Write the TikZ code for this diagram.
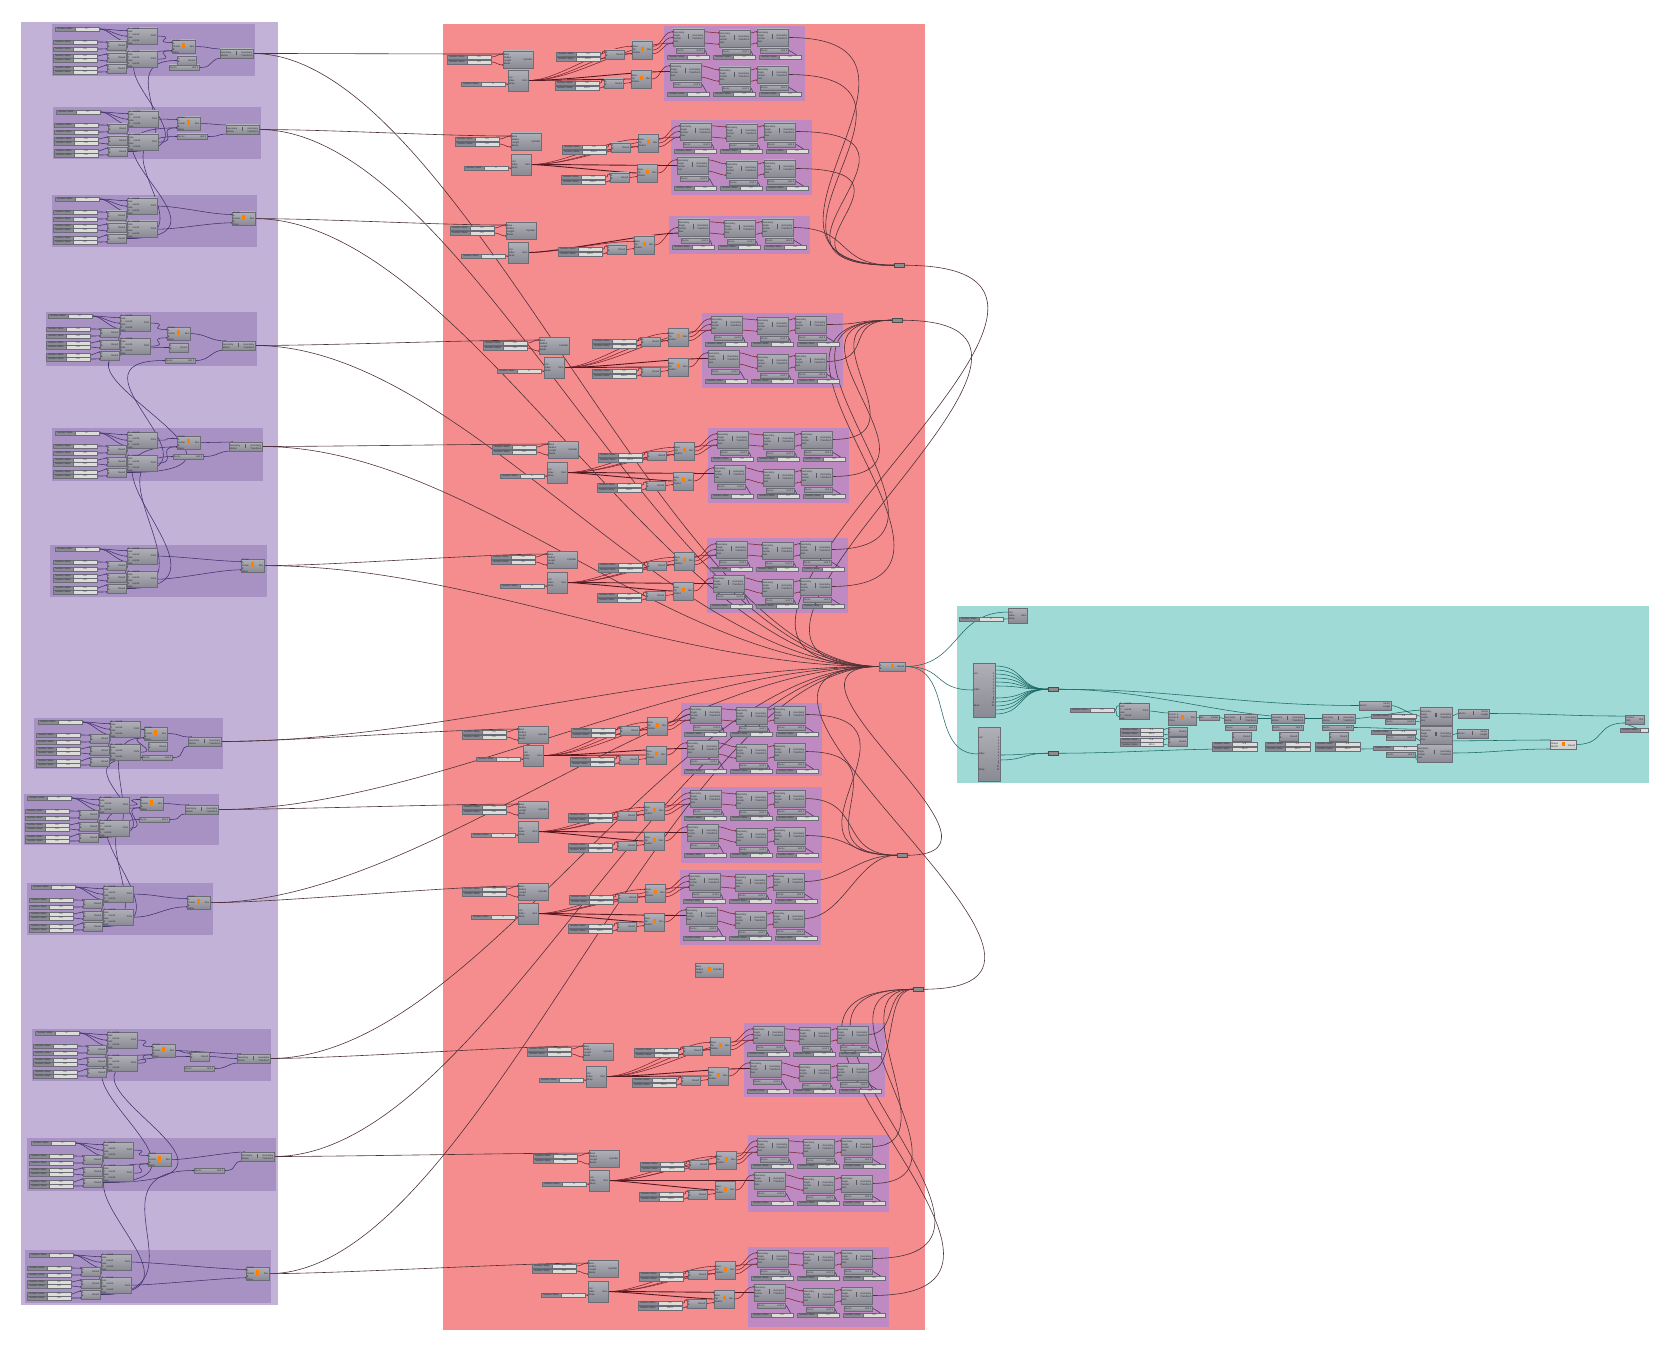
\documentclass[tikz,border=0pt]{standalone}
\usepackage{fontspec}
\setmainfont{Liberation Sans}
\usetikzlibrary{arrows.meta, positioning}
\pgfdeclarelayer{panel}
\pgfdeclarelayer{wires}
\pgfsetlayers{panel,wires,main}

\definecolor{lpanelc}{RGB}{195,178,215}
\definecolor{lgroupc}{RGB}{168,146,196}
\definecolor{rpanelc}{RGB}{245,141,143}
\definecolor{rgroupc}{RGB}{190,138,193}
\definecolor{tpanelc}{RGB}{159,218,215}
\definecolor{ctop}{RGB}{176,176,184}
\definecolor{cbot}{RGB}{138,138,148}
\definecolor{cedge}{RGB}{108,108,118}
\definecolor{ctext}{RGB}{40,40,48}
\definecolor{ptrack}{RGB}{220,220,216}
\definecolor{pw}{RGB}{66,48,110}
\definecolor{rw}{RGB}{122,36,48}
\definecolor{tw}{RGB}{28,104,100}
\definecolor{lw}{RGB}{78,50,56}

\newcommand{\tfont}{\fontsize{2.4}{2.9}\selectfont}
\newcommand{\icob}{\textcolor{orange}{\rule{3pt}{4.5pt}}}
\newcommand{\icom}{\textcolor{black!65}{\rule{1.6pt}{4.5pt}}}

\tikzset{
    comp/.style={draw=cedge, line width=.3pt, top color=ctop, bottom color=cbot, inner sep=0pt,
        outer sep=0pt, anchor=north west, text=ctext, font=\tfont},
    lightc/.style={top color=ptrack, bottom color=ptrack!85!gray},
    slbl/.style={draw=cedge, line width=.25pt, fill=cbot, inner sep=0pt, outer sep=0pt,
        minimum height=4pt, anchor=north west, text=ctext, font=\tfont},
    strk/.style={draw=cedge, line width=.25pt, fill=ptrack, inner sep=0pt, outer sep=0pt,
        minimum height=4pt, text=ctext, font=\tfont},
    hubn/.style={draw=black!70, line width=.3pt, fill=black!45, inner sep=0pt, outer sep=0pt,
        minimum width=10pt, minimum height=4.5pt, anchor=north west},
    backp/.style={inner sep=0pt, outer sep=0pt, anchor=north west},
    pwire/.style={draw=pw, line width=.55pt, {Circle[length=1.2pt]}-{Circle[length=1.2pt]}},
    rwire/.style={draw=rw, line width=.55pt, {Circle[length=1.2pt]}-{Circle[length=1.2pt]}},
    rthick/.style={draw=rw!70!black, line width=.9pt},
    twire/.style={draw=tw, line width=.55pt},
    lwire/.style={draw=lw, line width=.6pt}
}

\newcommand{\comp}[8][]{
    \node[comp, minimum width=#5pt, minimum height=#6pt] (#2) at (#3,#4)
        {\makebox[\dimexpr#5pt-1.5pt]{\parbox[c]{\dimexpr#5pt*40/100}{#7}\hfill #1\hfill\parbox[c]{\dimexpr#5pt*40/100}{\raggedleft #8}}};
}
\newcommand{\sliderbar}[5]{
    \node[slbl, minimum width=20pt] (#1l) at (#2,#3) {Number Slider};
    \node[strk, right=0pt of #1l, minimum width={(#4-20)*1pt}] (#1) {#5};
}
\newcommand{\wirelist}{}
\newcommand{\wirenow}[4]{\draw[#1] (#2) .. controls +(#4,0) and +(-#4,0) .. (#3);}
\newcommand{\wire}[4][pwire]{
    \xdef\wirelist{\unexpanded\expandafter{\wirelist}\noexpand\wirenow{#1}{#2}{#3}{#4}}
}
\newcommand{\leftgroup}[7]{
    \begin{pgfonlayer}{panel}
        \node[backp, fill=lgroupc, minimum width=#4pt, minimum height=#5pt] (#1r) at (#2,#3) {};
    \end{pgfonlayer}
    \sliderbar{#1s}{#6}{#7}{44}{0.7}
    \foreach \n/\dy in {1/13,2/20,3/27,4/31,5/39,6/43} {
        \sliderbar{#1a\n}{#6-2}{#7+\dy}{44}{0.5}
    }
    \foreach \n/\dy in {1/14,2/26,3/37} {
        \comp{#1d\n}{#6+52}{#7+\dy}{19}{9}{A\\B}{Result}
    }
    \comp{#1p}{#6+72}{#7+1}{30}{13}{X coordinate\\Y coordinate\\Z coordinate}{Point}
    \comp{#1q}{#6+72}{#7+24}{30}{13}{X coordinate\\Y coordinate\\Z coordinate}{Point}
    \wire{#1s.east}{#1p.160}{9}
    \wire{#1s.east}{#1p.west}{9}
    \wire{#1s.east}{#1p.200}{9}
    \wire{#1a1.east}{#1d1.160}{4}
    \wire{#1a2.east}{#1d1.200}{4}
    \wire{#1a3.east}{#1d2.160}{4}
    \wire{#1a4.east}{#1d2.200}{4}
    \wire{#1a5.east}{#1d3.160}{4}
    \wire{#1a6.east}{#1d3.200}{4}
    \wire{#1d1.east}{#1q.160}{3}
    \wire{#1d2.east}{#1q.west}{3}
    \wire{#1d3.east}{#1q.200}{3}
}
\newcommand{\pinkrow}[9]{
    \comp[\icom]{#1a}{#2+#5}{#3+#6}{31}{17}{Geometry\\Angle\\Center\\Axis}{Geometry\\Transform}
    \comp[\icom]{#1b}{#2+55}{#3+#7}{31}{17}{Geometry\\Angle\\Center\\Axis}{Geometry\\Transform}
    \comp[\icom]{#1c}{#2+#8}{#3+#9}{31}{17}{Geometry\\Angle\\Center\\Axis}{Geometry\\Transform}
    \comp{#1e}{#2+#5+3}{#3+#6+19}{28}{5}{Factor}{Unit X}
    \comp{#1f}{#2+58}{#3+#7+19}{28}{5}{Factor}{Unit Y}
    \comp{#1g}{#2+#8+3}{#3+#9+19}{28}{5}{Factor}{Unit Z}
    \sliderbar{#1h}{#2+3}{#3+#4}{42}{0.5}
    \sliderbar{#1i}{#2+49}{#3+#4}{42}{1.0}
    \sliderbar{#1j}{#2+95}{#3+#4}{42}{0.5}
    \wire[rwire]{#1a.20}{#1b.160}{5}
    \wire[rwire]{#1a.340}{#1b.200}{5}
    \wire[rwire]{#1b.20}{#1c.160}{5}
    \wire[rwire]{#1b.340}{#1c.200}{5}
    \wire{#1e.east}{#1h.east}{2}
    \wire{#1f.east}{#1i.east}{2}
    \wire{#1g.east}{#1j.east}{2}
}
\newcommand{\redleft}[5]{
    \comp{#1c}{#2}{#3}{30}{17}{Base\\Radius\\Length\\Bases}{Cylinder}
    \comp{#1l}{#4}{#5}{20}{21}{List\\Index\\Wrap}{Item}
    \sliderbar{#1u}{#2-56}{#3+4}{44}{0.5}
    \sliderbar{#1v}{#2-56}{#3+9}{44}{0.5}
    \sliderbar{#1w}{#4-47}{#5+12}{44}{5}
    \wire[rwire]{#1u.east}{#1c.160}{5}
    \wire[rwire]{#1v.east}{#1c.200}{5}
    \wire[rwire]{#1w.east}{#1l.200}{4}
}
\newcommand{\redbox}[3]{
    \comp[\icob]{#1}{#2}{#3}{20}{18}{Base\\Tip\\Radius}{Box}
    \comp{#1d}{#2-27}{#3+9}{19}{9}{A\\B}{Result}
    \sliderbar{#1t}{#2-76}{#3+11}{44}{0.5}
    \sliderbar{#1y}{#2-76}{#3+16}{44}{100.0}
    \wire[rwire]{#1t.east}{#1d.160}{4}
    \wire[rwire]{#1y.east}{#1d.200}{4}
    \wire[rwire]{#1d.east}{#1.200}{3}
}

\begin{document}
\begin{tikzpicture}[x=1pt, y=-1pt]
    \useasboundingbox (0,0) rectangle (1671,1351);
    \begin{pgfonlayer}{panel}
        \node[backp, fill=lpanelc, minimum width=257pt, minimum height=1283pt] (lpanel) at (21,22) {};
        \node[backp, fill=rpanelc, minimum width=482pt, minimum height=1306pt] (rpanel) at (443,24) {};
        \node[backp, fill=tpanelc, minimum width=692pt, minimum height=177pt] (tpanel) at (957,606) {};
    \end{pgfonlayer}

    \leftgroup{G1}{52}{24}{203}{52}{55}{27}
    \leftgroup{G2}{53}{107}{208}{52}{56}{110}
    \leftgroup{G3}{52}{195}{205}{52}{55}{197}
    \leftgroup{G4}{46}{312}{211}{54}{48}{314}
    \leftgroup{G5}{52}{428}{211}{53}{55}{431}
    \leftgroup{G6}{50}{545}{217}{52}{55}{547}
    \leftgroup{G7}{34}{718}{189}{51}{38}{720}
    \leftgroup{G8}{24}{794}{195}{51}{27}{796}
    \leftgroup{G9}{27}{883}{186}{52}{31}{885}
    \leftgroup{G10}{32}{1029}{239}{52}{35}{1031}
    \leftgroup{G11}{27}{1138}{249}{53}{31}{1141}
    \leftgroup{G12}{25}{1250}{246}{53}{29}{1253}

    \foreach \id/\bx/\by in {G1/172/40,G2/177/117,G3/232/212,G4/167/327,G5/177/436,G6/241/559,
        G7/144/727,G8/140/797,G9/187/896,G10/152/1044,G11/148/1153,G12/246/1267} {
        \comp[\icob]{\id b}{\bx}{\by}{23}{13}{Corner A\\Corner B\\Plane}{Box}
        \wire{\id p.east}{\id b.160}{22}
        \wire{\id q.east}{\id b.200}{22}
    }
    \foreach \id/\mx/\my/\fx/\fy in {G1/220/49/169/65,G2/226/125/177/134,G4/222/341/165/358,
        G5/229/442/173/454,G7/188/737/142/755,G8/185/805/139/817,G10/237/1054/184/1066,G11/241/1152/194/1168} {
        \comp[\icom]{\id m}{\mx}{\my}{33}{9}{Geometry\\Motion}{Geometry\\Transform}
        \comp{\id f}{\fx}{\fy}{30}{5}{Factor}{Unit Z}
        \wire{\id b.east}{\id m.160}{16}
        \wire{\id f.east}{\id m.200}{16}
    }
    \foreach \id/\ax/\ay in {G1/177/56,G4/169/343,G7/148/742,G10/190/1052} {
        \comp{\id e}{\ax}{\ay}{19}{9}{A\\B}{Result}
    }
    \wire{G10b.east}{G10e.160}{10}
    \wire{G10e.east}{G10m.west}{10}

    \foreach \lo/\up/\ka in {G2d3/G1b.200/110,G2d3/G1e.west/70,G3d3/G2b.200/130,G3d3/G2f.west/90,
        G5d3/G4e.west/190,G5d3/G4f.west/110,G6d3/G5b.200/130,G6d3/G5f.west/90,G8d3/G7b.200/60,
        G8d3/G7f.west/100,G9d3/G8b.200/100,G9d3/G8f.west/60,G11d3/G10e.west/220,G11d3/G10b.200/150,
        G12d3/G11b.200/130,G12d3/G11f.west/110} {
        \wire{\lo.east}{\up}{\ka}
    }

    \foreach \id/\px/\py/\ph/\cx/\cy/\lx/\ly/\ex/\ey/\fx/\fy in {
        B1/664/26/75/503/51/508/70/632/41/631/70,
        B2/671/120/75/511/133/511/154/638/134/637/164,
        B4/702/313/75/539/337/544/357/668/328/668/358,
        B5/708/428/75/548/441/547/462/674/442/673/472,
        B6/707/538/75/547/551/547/572/674/552/673/582,
        B7/681/703/73/518/726/523/745/647/717/646/746,
        B8/681/787/76/518/801/518/821/644/802/644/832,
        B9/680/870/75/518/883/518/903/645/884/644/913,
        B10/744/1023/74/583/1043/586/1066/710/1037/708/1067,
        B11/748/1135/77/589/1150/589/1170/716/1151/715/1181,
        B12/748/1247/80/588/1260/588/1281/715/1261/714/1290} {
        \begin{pgfonlayer}{panel}
            \node[backp, fill=rgroupc, minimum width=141pt, minimum height=\ph pt] (\id g) at (\px,\py) {};
        \end{pgfonlayer}
        \redleft{\id}{\cx}{\cy}{\lx}{\ly}
        \redbox{\id e}{\ex}{\ey}
        \redbox{\id h}{\fx}{\fy}
        \pinkrow{\id r}{\px}{\py}{29}{9}{3}{4}{93}{3}
        \pinkrow{\id s}{\px}{\py+34}{32}{6}{3}{7}{93}{6}
        \wire[rwire]{\id e.20}{\id ra.160}{10}
        \wire[rwire]{\id e.east}{\id ra.west}{10}
        \wire[rwire]{\id e.340}{\id ra.200}{10}
        \wire[rwire]{\id h.east}{\id sa.160}{10}
        \wire[rwire]{\id l.east}{\id e.160}{30}
        \wire[rwire]{\id l.east}{\id e.200}{40}
        \wire[rwire]{\id l.east}{\id ra.200}{50}
        \wire[rthick]{\id l.east}{\id h.west}{12}
        \wire[rthick]{\id l.east}{\id sa.west}{40}
    }
    \begin{pgfonlayer}{panel}
        \node[backp, fill=rgroupc, minimum width=141pt, minimum height=38pt] (B3g) at (669,216) {};
    \end{pgfonlayer}
    \redleft{B3}{506}{222}{508}{242}
    \redbox{B3e}{634}{236}
    \pinkrow{B3r}{669}{216}{29}{9}{3}{4}{93}{3}
    \wire[rwire]{B3e.east}{B3ra.west}{10}
    \wire[rwire]{B3l.east}{B3e.160}{30}
    \wire[rthick]{B3l.east}{B3ra.200}{30}

    \comp[\icob]{Bx}{695}{963}{28}{14}{Base\\Radius\\Height}{Cylinder}

    \node[hubn] (hub1) at (894,263) {};
    \node[hubn] (hub2) at (892,318) {};
    \node[hubn] (hub3) at (897,853) {};
    \node[hubn] (hub4) at (913,987) {};
    \comp[\icob]{main}{879}{662}{26}{9}{A\\B}{Result}

    \foreach \rr/\hb/\kk in {B1r/hub1/190,B1s/hub1/180,B2r/hub1/170,B2s/hub1/150,B3r/hub1/60,
        B4r/hub2/40,B4s/hub2/50,B5r/hub2/100,B5s/hub2/135,B6r/hub2/170,B6s/hub2/190,
        B7r/hub3/140,B7s/hub3/110,B8r/hub3/60,B8s/hub3/50,B9r/hub3/40,B9s/hub3/40,
        B10r/hub4/30,B10s/hub4/30,B11r/hub4/80,B11s/hub4/120,B12r/hub4/200,B12s/hub4/230} {
        \wire[lwire]{\rr c.east}{\hb.west}{\kk}
    }
    \wire[lwire]{hub1.east}{main.west}{300}
    \wire[lwire]{hub2.east}{main.west}{250}
    \wire[lwire]{hub3.east}{main.west}{130}
    \wire[lwire]{hub4.east}{main.west}{230}

    \foreach \gout/\blk in {G1m/B1,G2m/B2,G3b/B3,G4m/B4,G5m/B5,G6b/B6,G7m/B7,G8m/B8,G9b/B9,G10m/B10,G11m/B11,G12b/B12} {
        \wire[lwire]{\gout.east}{\blk c.160}{70}
        \wire[lwire]{\gout.east}{main.west}{210}
    }

    \sliderbar{Ts}{959}{617}{44}{5}
    \comp{Ti}{1008}{608}{19}{15}{List\\Index\\Wrap}{Item}
    \comp{Tl}{973}{663}{22}{54}{List\\[13pt]Index\\[13pt]Wrap}{0\\1\\2\\3\\4\\5\\6\\7\\8\\9\\10\\11}
    \comp{Tt}{978}{727}{22}{54}{List\\[13pt]Index\\[13pt]Wrap}{0\\1\\2\\3\\4\\5\\6\\7\\8\\9\\10\\11}
    \node[hubn] (Th1) at (1048,687) {};
    \node[hubn] (Th2) at (1048,751) {};
    \wire[twire]{Ts.east}{Ti.200}{6}
    \wire[twire]{main.east}{Ti.160}{55}
    \wire[twire]{main.east}{Tl.west}{40}
    \wire[twire]{main.east}{Tt.west}{50}
    \foreach \dy in {24,20,16,12,8,4,-8,-12,-16,-20,-24} {
        \wire[twire]{[yshift=\dy pt]Tl.east}{Th1.west}{30}
    }
    \wire[twire]{[yshift=-1pt]Tt.east}{Th2.west}{25}
    \wire[twire]{[yshift=-6pt]Tt.east}{Th2.west}{25}

    \sliderbar{Tu}{1070}{708}{44}{0.5}
    \comp{Tp}{1119}{703}{30}{14}{X coordinate\\Y coordinate\\Z coordinate}{Point}
    \comp[\icob]{Tb}{1168}{711}{28}{14}{Corner A\\Corner B\\Plane}{Box}
    \comp{Tc}{1199}{715}{20}{5}{Box}{Center}
    \sliderbar{Tv}{1120}{728}{43}{0.5}
    \sliderbar{Tw}{1120}{732}{43}{100.0}
    \sliderbar{Tx}{1120}{738}{43}{0.5}
    \sliderbar{Ty}{1120}{742.5}{43}{100.0}
    \comp{Td}{1168}{727}{19}{9}{A\\B}{Result}
    \comp{Te}{1168}{737}{19}{9}{A\\B}{Result}
    \wire[twire]{Tu.east}{Tp.160}{5}
    \wire[twire]{Tu.east}{Tp.200}{5}
    \wire[twire]{Tp.east}{Tb.160}{10}
    \wire[twire]{Tb.east}{Tc.west}{2}
    \wire[twire]{Tv.east}{Td.160}{3}
    \wire[twire]{Tw.east}{Td.200}{3}
    \wire[twire]{Tx.east}{Te.160}{3}
    \wire[twire]{Ty.east}{Te.200}{3}

    \foreach \id/\mx/\fx/\dx/\sx/\sy in {M1/1224/1225/1232/1212/742,M2/1271/1272/1279/1265/742,M3/1322/1322/1329/1315/742} {
        \comp[\icom]{\id}{\mx}{714}{33}{9}{Geometry\\Motion}{Geometry\\Transform}
        \comp{\id f}{\fx}{725}{31}{5}{Factor}{Unit Z}
        \comp{\id d}{\dx}{732}{19}{9}{A\\B}{Result}
        \sliderbar{\id a}{\sx}{\sy}{45}{0.5}
        \sliderbar{\id b}{\sx}{\sy+5}{45}{100.0}
    }
    \wire[twire]{Tc.east}{M1.west}{3}
    \wire[twire]{M1.east}{M2.west}{6}
    \wire[twire]{M2.east}{M3.west}{6}
    \wire[twire]{Th2.east}{M1b.west}{60}

    \comp{Ta}{1359}{701}{32}{9}{Vector}{Vector\\Length}
    \sliderbar{Tf}{1371}{714}{45}{0.5}
    \comp{Tg}{1385}{719}{30}{5}{Factor}{Unit X}
    \sliderbar{Th}{1371}{730}{45}{0.5}
    \comp{Tj}{1386}{735}{29}{5}{Factor}{Unit Y}
    \sliderbar{Tk}{1373}{746}{45}{0.5}
    \comp{Tm}{1386}{752}{29}{5}{Factor}{Unit Z}
    \comp[\icom]{Tr1}{1420}{707}{32}{18}{Geometry\\Angle\\Center\\Axis}{Geometry\\Transform}
    \comp[\icom]{Tr2}{1420}{726}{32}{18}{Geometry\\Angle\\Center\\Axis}{Geometry\\Transform}
    \comp[\icom]{Tr3}{1417}{744}{35}{18}{Geometry\\Angle\\Center\\Axis}{Geometry\\Transform}
    \comp[\icom]{Tn1}{1458}{709}{31}{9}{Vector}{Vector\\Length}
    \comp[\icom]{Tn2}{1457}{729}{31}{9}{Vector}{Vector\\Length}
    \node[comp, lightc, minimum width=26pt, minimum height=9pt] (Tq) at (1550,740)
        {\makebox[24pt]{\parbox[c]{8pt}{Shape\\Result}\hfill\icob\hfill Result}};
    \comp{Tz}{1625}{715}{19}{9}{Content\\Path}{Out}
    \sliderbar{Ts2}{1620}{728}{28}{}

    \wire[twire]{Th1.east}{Ta.west}{120}
    \wire[twire]{Th1.east}{M3.west}{100}
    \wire[twire]{M3.east}{Tr1.160}{12}
    \wire[twire]{Ta.east}{Tr1.west}{8}
    \wire[twire]{M3f.east}{Tr2.160}{25}
    \wire[twire]{M3b.east}{Tr3.160}{25}
    \wire[twire]{Tg.east}{Tr1.200}{3}
    \wire[twire]{Tj.east}{Tr2.200}{3}
    \wire[twire]{Tm.east}{Tr3.200}{3}
    \wire[twire]{Tr1.east}{Tn1.west}{3}
    \wire[twire]{Tr2.east}{Tn2.west}{3}
    \wire[twire]{Tn1.east}{Tz.160}{60}
    \wire[twire]{Tr2.340}{Tq.160}{40}
    \wire[twire]{Tr3.east}{Tq.200}{40}
    \wire[twire]{Tq.east}{Tz.200}{30}
    \wire[twire]{Ts2l.east}{Tz.200}{3}

    \begin{pgfonlayer}{wires}
        \wirelist
    \end{pgfonlayer}
\end{tikzpicture}
\end{document}
